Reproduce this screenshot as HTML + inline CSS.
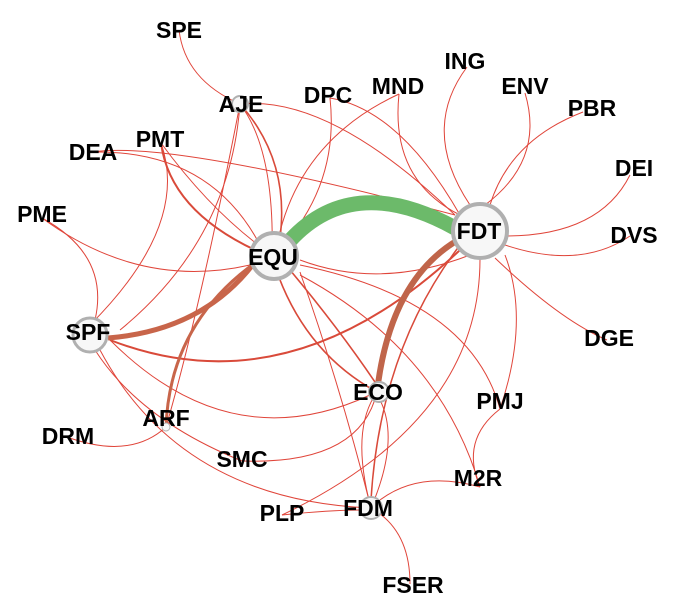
<!DOCTYPE html>
<html><head><meta charset="utf-8"><style>
body{margin:0;background:#fff;}
svg{display:block}
text{font-family:"Liberation Sans",sans-serif;font-weight:bold;font-size:23px;fill:#000;text-anchor:middle;}
</style></head><body>
<svg width="692" height="614" viewBox="0 0 692 614">
<g fill="none" stroke="#e0453a" stroke-width="1">
<path d="M179 30 Q185 80 240 104"/>
<path d="M240 104 Q330 95 455 215"/>
<path d="M240 104 Q275 150 272 257"/>
<path d="M240 104 Q230 240 120 330"/>
<path d="M330 98 Q340 190 272 257"/>
<path d="M330 98 Q400 110 460 215"/>
<path d="M399 94 Q300 140 278 240"/>
<path d="M399 94 Q390 180 460 215"/>
<path d="M467 67 Q420 130 470 205"/>
<path d="M525 93 Q545 160 485 205"/>
<path d="M583 112 Q510 140 490 205"/>
<path d="M630 175 Q600 235 508 236"/>
<path d="M630 236 Q580 270 505 245"/>
<path d="M607 340 Q560 320 495 258"/>
<path d="M500 409 Q470 300 300 265"/>
<path d="M500 409 Q530 320 505 255"/>
<path d="M500 409 Q460 440 480 487"/>
<path d="M480 487 Q440 350 300 275"/>
<path d="M480 487 Q420 470 380 500"/>
<path d="M410 584 Q410 530 371 508"/>
<path d="M282 515 Q480 420 480 259"/>
<path d="M282 515 Q330 510 360 510"/>
<path d="M371 508 Q340 385 300 272"/>
<path d="M371 508 Q400 440 380 400"/>
<path d="M371 508 Q350 430 377 392"/>
<path d="M242 461 Q360 465 377 392"/>
<path d="M371 508 Q180 500 100 350"/>
<path d="M242 461 Q140 420 95 350"/>
<path d="M110 340 Q230 460 370 395"/>
<path d="M67 437 Q130 460 166 427"/>
<path d="M166 427 Q200 310 240 104"/>
<path d="M42 218 Q140 290 250 265"/>
<path d="M42 218 Q110 255 95 320"/>
<path d="M93 152 Q210 150 260 245"/>
<path d="M161 143 Q190 225 90 325"/>
<path d="M161 143 Q210 210 265 250"/>
<path d="M93 152 Q170 140 455 215"/>
<path d="M300 260 Q380 290 470 255"/>
</g>
<g fill="none" stroke="#d94a3a">
<path d="M161 143 Q170 210 255 250" stroke-width="2"/>
<path d="M240 104 Q290 160 280 238" stroke-width="1.6"/>
<path d="M272 257 Q300 350 377 392" stroke-width="1.6"/>
<path d="M290 270 Q340 330 377 385" stroke-width="1.6"/>
<path d="M110 340 Q290 410 460 250" stroke-width="2"/>
<path d="M460 245 Q380 350 371 500" stroke-width="1.5"/>
</g>
<path d="M108 338 Q210 330 262 252" fill="none" stroke="#c8654a" stroke-width="5"/>
<path d="M166 427 Q170 320 262 258" fill="none" stroke="#c8654a" stroke-width="3"/>
<path d="M458 240 Q390 280 377 392" fill="none" stroke="#c0654a" stroke-width="6"/>
<path d="M286 245 Q350 170 455 228" fill="none" stroke="#6cba6a" stroke-width="15"/>
<g fill="#f7f7f7" stroke="#b0b0b0">
<circle cx="480" cy="231" r="27" stroke-width="4"/>
<circle cx="274" cy="256" r="23" stroke-width="4"/>
<circle cx="90" cy="335" r="17" stroke-width="3"/>
<circle cx="379" cy="392" r="10" stroke-width="2"/>
<circle cx="371" cy="508" r="11" stroke-width="2"/>
<circle cx="240" cy="104" r="8" stroke-width="2"/>
<circle cx="166" cy="427" r="4" stroke-width="1"/>
</g>
<text x="179" y="38">SPE</text>
<text x="241" y="112">AJE</text>
<text x="328" y="103">DPC</text>
<text x="398" y="94">MND</text>
<text x="465" y="69">ING</text>
<text x="525" y="94">ENV</text>
<text x="592" y="116">PBR</text>
<text x="634" y="176">DEI</text>
<text x="634" y="243">DVS</text>
<text x="609" y="346">DGE</text>
<text x="500" y="409">PMJ</text>
<text x="478" y="486">M2R</text>
<text x="368" y="516">FDM</text>
<text x="413" y="593">FSER</text>
<text x="282" y="521">PLP</text>
<text x="242" y="467">SMC</text>
<text x="166" y="426">ARF</text>
<text x="68" y="444">DRM</text>
<text x="88" y="340">SPF</text>
<text x="42" y="222">PME</text>
<text x="93" y="160">DEA</text>
<text x="160" y="147">PMT</text>
<text x="273" y="265">EQU</text>
<text x="479" y="239">FDT</text>
<text x="378" y="400">ECO</text>
</svg>
</body></html>
